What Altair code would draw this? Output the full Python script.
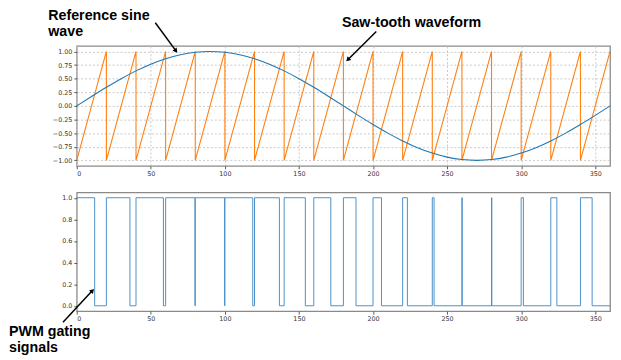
import altair as alt
import pandas as pd

# ---- data ----
deg = [0, 10, 20, 30, 40, 50, 60, 70, 80, 90, 100, 110, 120, 130, 140, 150, 160, 170, 180,
       190, 200, 210, 220, 230, 240, 250, 260, 270, 280, 290, 300, 310, 320, 330, 340, 350, 360]
sine = [0.0, 0.174, 0.342, 0.5, 0.643, 0.766, 0.866, 0.94, 0.985, 1.0, 0.985, 0.94, 0.866,
        0.766, 0.643, 0.5, 0.342, 0.174, 0.0, -0.174, -0.342, -0.5, -0.643, -0.766, -0.866,
        -0.94, -0.985, -1.0, -0.985, -0.94, -0.866, -0.766, -0.643, -0.5, -0.342, -0.174, 0.0]

# saw-tooth: rises from -1 to 1 between consecutive edges, then drops back
tooth_edges = [0, 20, 40, 60, 80, 100, 120, 140, 160, 180, 200, 220, 240, 260, 280, 300, 320, 340, 360]
saw_low, saw_high = -1.0, 1.0

# PWM: switching instants (alternating high / low, starting high)
pwm_switch = [0, 12.1, 20, 35.9, 40, 58.5, 60, 79.8, 80, 99.8, 100, 118.8, 120, 136.8, 140, 154.3,
              160, 171.5, 180, 188.5, 200, 205.7, 220, 223.2, 240, 241.2, 260, 260.2, 280, 280.2,
              300, 301.5, 320, 324.1, 340, 347.9, 360]
pwm_level = [1, 0] * 18 + [0]

y_ticks_top = [-1, -0.75, -0.5, -0.25, 0, 0.25, 0.5, 0.75, 1]
y_ticks_bot = [0, 0.2, 0.4, 0.6, 0.8, 1.0]
xticks = [0, 50, 100, 150, 200, 250, 300, 350]

# ---- tables ----
sine_df = pd.DataFrame({"x": deg, "y": sine})
sx, sy = [tooth_edges[0]], [saw_low]
for e in tooth_edges[1:]:
    sx += [e, e]
    sy += [saw_high, saw_low]
sx, sy = sx[:-1], sy[:-1]
saw_df = pd.DataFrame({"x": sx, "y": sy, "o": range(len(sx))})
pwm_df = pd.DataFrame({"x": pwm_switch, "y": pwm_level})

W = 543
FONT_TXT = "Liberation Sans"
xscale = alt.Scale(domain=[0, 360], nice=False, zero=False)
yscale_top = alt.Scale(domain=[-1.1, 1.1], nice=False, zero=False)

one = pd.DataFrame({"a": [0]})


def note(lines, x, y):
    return alt.Chart(one).mark_text(
        text=lines, align="left", baseline="alphabetic", font=FONT_TXT,
        fontSize=14.5, fontWeight="bold", lineHeight=16.5, color="black"
    ).encode(x=alt.value(x), y=alt.value(y))


def arrow(x1, y1, x2, y2, ang):
    line = alt.Chart(one).mark_rule(color="black", strokeWidth=1.5).encode(
        x=alt.value(x1), y=alt.value(y1), x2=alt.value(x2), y2=alt.value(y2))
    head = alt.Chart(one).mark_point(shape="triangle-up", filled=True, size=28, angle=ang,
                                     color="black", opacity=1).encode(
        x=alt.value(x2), y=alt.value(y2))
    return line + head


xaxis_top = alt.Axis(values=xticks, format="d", title=None, grid=True, gridDash=[2, 2],
                     gridColor="#c8c8c8", domain=False, labelOverlap=False)
yaxis_top = alt.Axis(values=y_ticks_top, format=".2f", tickCount=9,
                     title=None, grid=True, gridDash=[2, 2], gridColor="#c8c8c8", domain=False,
                     labelOverlap=False)

saw_line = alt.Chart(saw_df).mark_line(color="#ff7f0e", strokeWidth=1.1).encode(
    x=alt.X("x:Q", scale=xscale, axis=xaxis_top),
    y=alt.Y("y:Q", scale=yscale_top, axis=yaxis_top),
    order="o:Q")
sine_line = alt.Chart(sine_df).mark_line(color="#1f77b4", strokeWidth=1.1, interpolate="monotone").encode(
    x=alt.X("x:Q", scale=xscale, axis=xaxis_top),
    y=alt.Y("y:Q", scale=yscale_top, axis=yaxis_top),
)

top = alt.layer(
    saw_line, sine_line,
    note(["Reference sine", "wave"], -29, -26.2),
    note(["Saw-tooth waveform"], 270, -19.7),
    arrow(80, -23.7, 101, 5, 143),
    arrow(305, -14.7, 276, 14, 225),
).properties(width=W, height=122)

xaxis_bot = alt.Axis(values=xticks, format="d", title=None, grid=False, domain=False,
                     labelOverlap=False)
yaxis_bot = alt.Axis(values=y_ticks_bot, format=".1f", title=None, grid=False,
                     domain=False, labelOverlap=False)
pwm_line = alt.Chart(pwm_df).mark_line(color="#4a90c8", strokeWidth=1.0, interpolate="step-after").encode(
    x=alt.X("x:Q", scale=xscale, axis=xaxis_bot),
    y=alt.Y("y:Q", scale=alt.Scale(domain=[-0.05, 1.05], nice=False, zero=False), axis=yaxis_bot),
)

bottom = alt.layer(
    pwm_line,
    note(["PWM gating", "signals"], -69, 146),
    arrow(-14, 132.3, 16, 100, 43),
).properties(width=W, height=121)

chart = alt.vconcat(top, bottom, spacing=13).properties(
    padding={"left": 0, "top": -3.5, "right": 0, "bottom": 0},
    background="white",
).configure_view(
    stroke="#8a8a8a", strokeWidth=1.3
).configure_axis(
    labelFont="DejaVu Sans", labelFontSize=6.5, labelColor="#333333", tickColor="#333333",
    tickSize=3, tickWidth=0.8, labelPadding=2
)

chart.save("out.html", embed_options={"renderer": "svg", "actions": False})
